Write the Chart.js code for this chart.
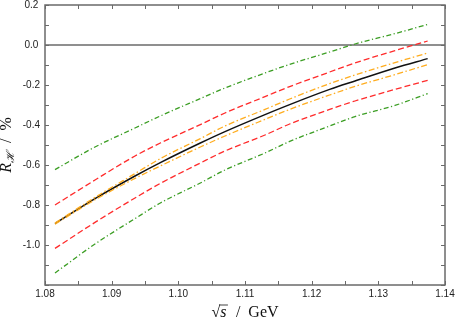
<!DOCTYPE html>
<html>
<head>
<meta charset="utf-8">
<script src="https://cdn.jsdelivr.net/npm/chart.js@4/dist/chart.umd.min.js"></script>
<style>
  html, body { margin: 0; padding: 0; background: #fff; }
  #wrap { width: 457px; height: 320px; }
</style>
</head>
<body>
<div id="wrap"><canvas id="chart" width="457" height="320"></canvas></div>
<script>
// sqrt(s) in GeV
const sqrtS = [1.0815, 1.0875, 1.0935, 1.0973, 1.1033, 1.107, 1.113, 1.1167, 1.1227, 1.1265, 1.1325, 1.1374];
// R_H in %
const central    = [-0.893, -0.768, -0.655, -0.588, -0.490, -0.433, -0.348, -0.298, -0.222, -0.180, -0.115, -0.068];
const orangeUp   = [-0.890, -0.762, -0.643, -0.568, -0.468, -0.405, -0.322, -0.270, -0.193, -0.150, -0.088, -0.040];
const orangeLow  = [-0.896, -0.774, -0.667, -0.605, -0.510, -0.455, -0.372, -0.322, -0.250, -0.207, -0.148, -0.098];
const redUp      = [-0.800, -0.675, -0.555, -0.490, -0.398, -0.340, -0.258, -0.208, -0.135, -0.090, -0.028, 0.020];
const redLow     = [-1.017, -0.887, -0.765, -0.692, -0.590, -0.530, -0.450, -0.395, -0.322, -0.280, -0.222, -0.177];
const greenUp    = [-0.623, -0.510, -0.415, -0.355, -0.268, -0.215, -0.140, -0.097, -0.035, 0.005, 0.057, 0.103];
const greenLow   = [-1.140, -0.995, -0.868, -0.790, -0.690, -0.625, -0.540, -0.482, -0.405, -0.358, -0.302, -0.243];

const xMin = 1.08, xMax = 1.14, yMin = -1.2, yMax = 0.2;

function pts(ys){ return sqrtS.map((x,i)=>({x:x, y:ys[i]})); }

function line(ys, color, width, dash){
  return {
    data: pts(ys),
    borderColor: color,
    borderWidth: width,
    borderDash: dash,
    pointRadius: 0,
    showLine: true,
    fill: false,
    cubicInterpolationMode: 'monotone'
  };
}

const GREEN = '#3c9e24', RED = '#ff2b2b', ORANGE = '#ffad1f';

// frame, inward ticks, zero line and axis titles
const framePlugin = {
  id: 'frame',
  beforeDatasetsDraw(chart){
    const {ctx, chartArea: a, scales:{y}} = chart;
    ctx.save();
    ctx.strokeStyle = '#6a6a6a';
    ctx.lineWidth = 1.5;
    const y0 = y.getPixelForValue(0);
    ctx.beginPath(); ctx.moveTo(a.left, y0); ctx.lineTo(a.right, y0); ctx.stroke();
    ctx.restore();
  },
  afterDraw(chart){
    const {ctx, chartArea: a, scales:{x, y}} = chart;
    ctx.save();
    ctx.strokeStyle = '#6a6a6a';
    ctx.lineWidth = 1.5;
    ctx.strokeRect(a.left, a.top, a.right - a.left, a.bottom - a.top);
    ctx.lineWidth = 1;
    ctx.beginPath();
    for(let i=0;i<=12;i++){
      const v = xMin + i*0.005;
      const px = Math.round(x.getPixelForValue(v)) + 0.5;
      ctx.moveTo(px, a.bottom); ctx.lineTo(px, a.bottom - 4);
      ctx.moveTo(px, a.top); ctx.lineTo(px, a.top + 4);
    }
    for(let i=0;i<=14;i++){
      const v = yMin + i*0.1;
      const py = Math.round(y.getPixelForValue(v)) + 0.5;
      ctx.moveTo(a.left, py); ctx.lineTo(a.left + 4, py);
      ctx.moveTo(a.right, py); ctx.lineTo(a.right - 4, py);
    }
    ctx.stroke();

    // x title: sqrt(s) / GeV
    ctx.fillStyle = '#111';
    ctx.textBaseline = 'alphabetic';
    const cx = (a.left + a.right)/2, by = 317;
    const fN = '16px "Liberation Serif", serif', fI = 'italic 16px "Liberation Serif", serif';
    ctx.font = fN; const wRad = ctx.measureText('\u221A').width;
    ctx.font = fI; const wS = ctx.measureText('s').width + 1.5;
    ctx.font = fN; const wRest = ctx.measureText('  /  GeV').width;
    let sx = cx - (wRad + wS + wRest)/2;
    ctx.font = fN; ctx.fillText('\u221A', sx, by);
    sx += wRad;
    ctx.font = fI; ctx.fillText('s', sx, by);
    ctx.lineWidth = 0.8; ctx.strokeStyle = '#111';
    ctx.beginPath(); ctx.moveTo(sx - 1, by - 12); ctx.lineTo(sx + wS, by - 12); ctx.stroke();
    sx += wS;
    ctx.font = fN; ctx.fillText('  /  GeV', sx, by);

    // y title: R_H / %
    ctx.translate(11, (a.top + a.bottom)/2);
    ctx.rotate(-Math.PI/2);
    const fSub = 'italic 11px "Liberation Serif", serif';
    ctx.font = fI; const wR = ctx.measureText('R').width;
    ctx.font = fSub; const wH = ctx.measureText('\u210B').width;
    ctx.font = fN; const wP = ctx.measureText('  /  %').width;
    let ty = -(wR + wH + wP)/2;
    ctx.font = fI; ctx.fillText('R', ty, 0); ty += wR;
    ctx.font = fSub; ctx.fillText('\u210B', ty, 3); ty += wH;
    ctx.font = fN; ctx.fillText('  /  %', ty, 0);
    ctx.restore();
  }
};

new Chart(document.getElementById('chart').getContext('2d'), {
  type: 'scatter',
  data: {
    datasets: [
      line(greenUp, GREEN, 1.3, [5, 2.5, 1.2, 2.5]),
      line(greenLow, GREEN, 1.3, [5, 2.5, 1.2, 2.5]),
      line(redUp, RED, 1.3, [6, 3]),
      line(redLow, RED, 1.3, [6, 3]),
      line(orangeUp, ORANGE, 1.3, [6, 2.5, 1.5, 2.5]),
      line(orangeLow, ORANGE, 1.3, [6, 2.5, 1.5, 2.5]),
      line(central, '#111111', 1.5, [])
    ]
  },
  options: {
    responsive: false,
    animation: false,
    layout: { padding: { top: 5, right: 12, left: 0, bottom: 0 } },
    plugins: { legend: { display: false }, tooltip: { enabled: false } },
    scales: {
      x: {
        type: 'linear', min: xMin, max: xMax,
        grid: { display: false, drawTicks: false },
        border: { display: false },
        ticks: {
          stepSize: 0.01, padding: 3, color: '#222', maxRotation: 0, autoSkip: false,
          font: { family: '"Liberation Sans", Arial, sans-serif', size: 10 },
          callback: v => v.toFixed(2)
        },
        afterFit: s => { s.height = 35; s.paddingLeft = 0; s.paddingRight = 0; }
      },
      y: {
        type: 'linear', min: yMin, max: yMax,
        grid: { display: false, drawTicks: false },
        border: { display: false },
        ticks: {
          stepSize: 0.2, padding: 5, color: '#222', crossAlign: 'center',
          font: { family: '"Liberation Sans", Arial, sans-serif', size: 10 },
          callback: v => (v < -1.1 ? '' : (Math.abs(v) < 1e-9 ? 0 : v).toFixed(1))
        },
        afterFit: s => { s.width = 45; s.paddingTop = 0; s.paddingBottom = 0; }
      }
    }
  },
  plugins: [framePlugin]
});
</script>
</body>
</html>
